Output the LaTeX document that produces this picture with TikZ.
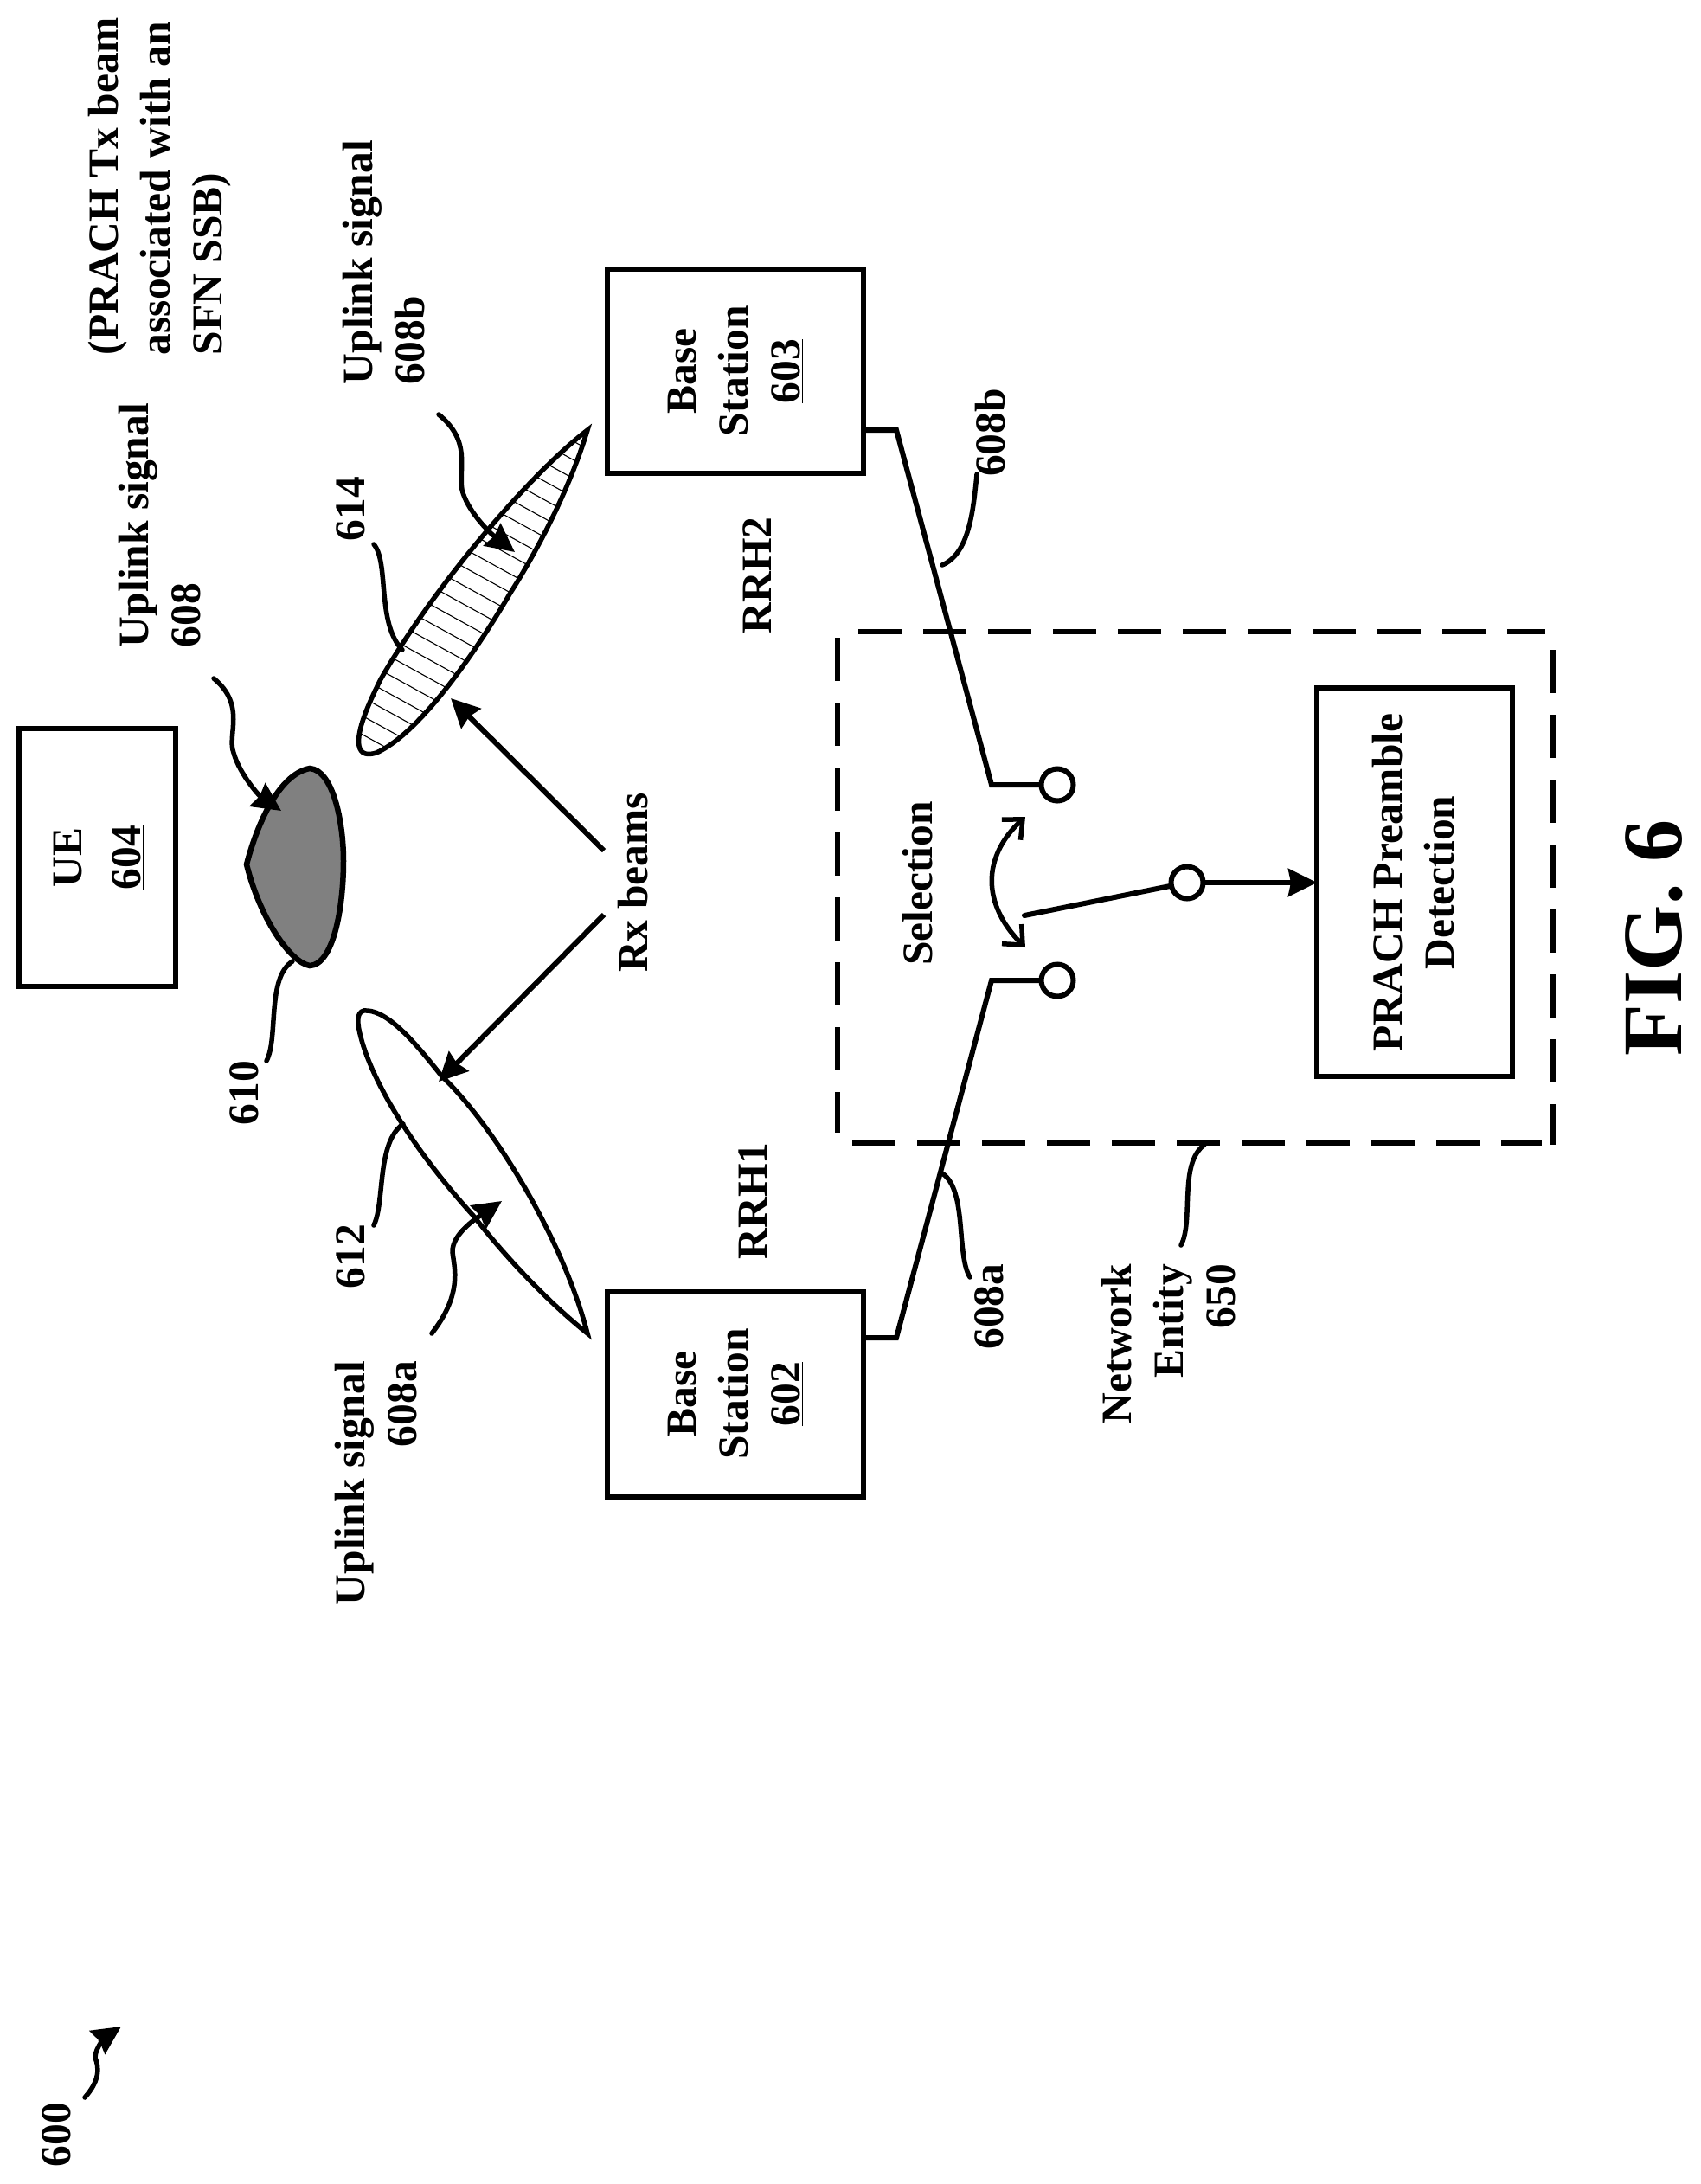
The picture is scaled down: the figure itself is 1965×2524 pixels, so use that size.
\documentclass[tikz,border=0pt]{standalone}
\usepackage{fontspec}
\setmainfont{Liberation Serif}
\usetikzlibrary{arrows.meta}
\tikzset{
  x=1pt,y=-1pt,
  lbl/.style={rotate=90,inner sep=0pt,font=\bfseries\fontsize{49.5}{60}\selectfont},
  boxed/.style={draw,line width=6pt,rectangle,inner sep=0pt,outer sep=0pt},
  wire/.style={line width=6pt,line join=miter},
  lead/.style={line width=5.5pt,line cap=round},
  solidtip/.style={-{Stealth[length=33pt,width=32pt,inset=3pt]}},
  barbtip/.style={{Straight Barb[length=18pt,width=32pt,line width=5.5pt]}-{Straight Barb[length=18pt,width=32pt,line width=5.5pt]}},
  term/.style={draw,line width=6pt,circle,minimum size=37pt,inner sep=0pt,outer sep=0pt,fill=white},
  dash5/.style={line width=5.5pt,dash pattern=on 50pt off 25pt},
  beam/.style={line width=5.5pt,line join=miter},
}
\begin{document}
\begin{tikzpicture}
\useasboundingbox (0,0) rectangle (1965,2524);
% boxes
\node[boxed,minimum width=181pt,minimum height=298pt] (uebox) at (112.5,991) {};
\node[lbl,align=center,font=\bfseries\fontsize{49.5}{68}\selectfont] (ue) at (114,991) {UE\\\underline{604}};
\node[boxed,minimum width=296pt,minimum height=236pt] (bs3box) at (850,429) {};
\node[lbl,align=center] (bs3) at (850,429) {Base\\Station\\\underline{603}};
\node[boxed,minimum width=296pt,minimum height=237pt] (bs2box) at (850,1611.5) {};
\node[lbl,align=center] (bs2) at (850,1611) {Base\\Station\\\underline{602}};
\node[boxed,minimum width=226pt,minimum height=449pt] (prbox) at (1635,1019.5) {};
\node[lbl,align=center] (prach) at (1634,1020) {PRACH Preamble\\Detection};
% dashed network entity
\draw[dash5] (992,730) -- (1786,730);
\draw[dash5] (968,737) -- (968,1309);
\draw[dash5] (985,1321) -- (1782,1321);
\draw[dash5] (1795,751) -- (1795,1323);
% blob
\draw[line width=6.5pt,fill=black!50,line join=miter]
  (285,999) .. controls (295,960) and (320,895) .. (358,888)
  .. controls (385,890) and (397,950) .. (397,995)
  .. controls (397,1050) and (385,1115) .. (358,1116)
  .. controls (335,1112) and (300,1060) .. (285,999) -- cycle;
% beam 614
\def\beamB{(679,497) .. controls (610,550) and (500,680) .. (440,785)
  .. controls (425,815) and (412,845) .. (415,862)
  .. controls (417,872) and (425,873) .. (435,870)
  .. controls (480,850) and (540,770) .. (590,685)
  .. controls (625,630) and (660,560) .. (679,497) -- cycle}
\begin{scope}
  \clip \beamB;
  \foreach \i in {-12,...,20}{
    \draw[line width=1.1pt] (380,548+\i*21.5) -- ++(320,176);
  }
\end{scope}
\draw[beam] \beamB;
% beam 612
\draw[beam]
  (679,1541) .. controls (650,1430) and (570,1300) .. (510,1243)
  .. controls (480,1205) and (450,1170) .. (425,1168)
  .. controls (412,1166) and (413,1180) .. (415,1190)
  .. controls (425,1240) and (470,1320) .. (548,1406)
  .. controls (590,1460) and (640,1510) .. (679,1541) -- cycle;
% connectors
\coordinate (e3) at (1036,497);
\coordinate (e3b) at (1146,907);
\coordinate (e2) at (1036,1546);
\coordinate (e2b) at (1146,1133);
\node[term] (t3) at (1222,907) {};
\node[term] (t2) at (1222,1133) {};
\node[term] (tc) at (1372,1020) {};
\draw[wire] (bs3box.east |- e3) -- (e3) -- (e3b) -- (t3);
\draw[wire] (bs2box.east |- e2) -- (e2) -- (e2b) -- (t2);
\coordinate (sw) at (1184,1058);
\draw[wire,line cap=round] (tc) -- (sw);
\draw[wire,solidtip] (tc) -- (prbox.west |- tc);
\coordinate (s1) at (1185,944);
\coordinate (s2) at (1185,1095);
\draw[lead,line cap=butt,barbtip] (s1) .. controls (1135,990) and (1135,1045) .. (s2);
% rx
\coordinate (rx1) at (698,983);
\coordinate (rx2) at (698,1057);
\coordinate (rxa) at (521,807);
\coordinate (rxc) at (507,1250);
\draw[wire,solidtip] (rx1) -- (rxa);
\draw[wire,solidtip] (rx2) -- (rxc);
% leaders with arrows
\coordinate (l1) at (247,784);\coordinate (l1e) at (325,937);
\draw[lead,solidtip] (l1) .. controls (285,815) and (262,850) .. (270,870) .. controls (277,895) and (300,920) .. (l1e);
\coordinate (l2) at (507,479);\coordinate (l2e) at (595,638);
\draw[lead,solidtip] (l2) .. controls (545,510) and (530,540) .. (534,566) .. controls (540,590) and (565,615) .. (l2e);
\coordinate (l3) at (499,1541);\coordinate (l3e) at (580,1388);
\draw[lead,solidtip] (l3) .. controls (535,1495) and (525,1465) .. (523,1447) .. controls (522,1425) and (555,1405) .. (l3e);
\coordinate (l4) at (98,2424);\coordinate (l4e) at (140,2342);
\draw[lead,solidtip] (l4) .. controls (115,2405) and (115,2390) .. (110,2378) .. controls (110,2365) and (125,2352) .. (l4e);
% plain leaders
\coordinate (p1) at (432,629);\coordinate (p1e) at (465,751);
\draw[lead] (p1) .. controls (450,650) and (435,720) .. (p1e);
\coordinate (p2) at (308,1226);\coordinate (p2e) at (338,1111);
\draw[lead] (p2) .. controls (322,1200) and (308,1130) .. (p2e);
\coordinate (p3) at (432,1416);\coordinate (p3e) at (466,1299);
\draw[lead] (p3) .. controls (445,1390) and (435,1320) .. (p3e);
\coordinate (p4) at (1089,653);\coordinate (p4e) at (1129,548);
\draw[lead] (p4) .. controls (1120,640) and (1125,590) .. (p4e);
\coordinate (p5) at (1089,1356);\coordinate (p5e) at (1121,1476);
\draw[lead] (p5) .. controls (1118,1375) and (1105,1450) .. (p5e);
\coordinate (p6) at (1392,1323);\coordinate (p6e) at (1365,1439);
\draw[lead] (p6) .. controls (1362,1345) and (1380,1410) .. (p6e);
% labels
\node[lbl,align=left] (prachnote) at (185,215) {(PRACH Tx beam\\associated with an\\SFN SSB)};
\node[lbl,align=left] (ul) at (185,607) {Uplink signal\\608};
\node[lbl,align=left] (ulb) at (444,303) {Uplink signal\\608b};
\node[lbl,align=right] (ula) at (435,1714) {Uplink signal\\608a};
\node[lbl] (n614) at (405,588) {614};
\node[lbl] (n612) at (405,1452) {612};
\node[lbl] (n610) at (282,1263) {610};
\node[lbl] (rrh2) at (875,665) {RRH2};
\node[lbl] (rrh1) at (870,1388) {RRH1};
\node[lbl] (rxb) at (732,1020) {Rx beams};
\node[lbl] (sel) at (1061,1021) {Selection};
\node[lbl] (n608b) at (1145,500) {608b};
\node[lbl] (n608a) at (1143,1510) {608a};
\node[lbl,align=right] (ne) at (1351,1553) {Network\\Entity\\650};
\node[lbl] (n600) at (65,2467) {600};
\node[lbl,font=\bfseries\fontsize{98}{110}\selectfont] (fig) at (1912,1084) {FIG. 6};
\end{tikzpicture}
\end{document}
